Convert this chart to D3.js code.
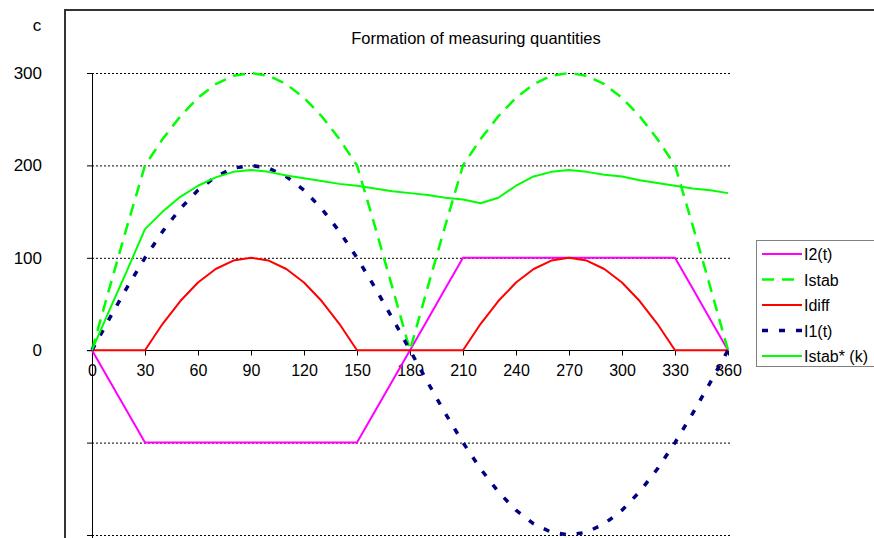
<!DOCTYPE html>
<html lang="en">
<head>
<meta charset="UTF-8">
<title>Formation of measuring quantities</title>
<script src="https://d3js.org/d3.v7.min.js"></script>
<style>
    body { margin: 0; background: #fff; }
    svg text { font-family: "Liberation Sans", Arial, sans-serif; fill: #000; }
    .grid { stroke: #000; stroke-width: 1; stroke-dasharray: 2,2; }
    .series { fill: none; stroke-linejoin: round; }
</style>
</head>
<body>
<div id="chart"></div>
<script>
    // angle in degrees, one point every 10 degrees
    const deg = [0, 10, 20, 30, 40, 50, 60, 70, 80, 90, 100, 110, 120, 130, 140, 150, 160, 170, 180,
        190, 200, 210, 220, 230, 240, 250, 260, 270, 280, 290, 300, 310, 320, 330, 340, 350, 360];

    const i2 = [0, -33.3, -66.7, -100, -100, -100, -100, -100, -100, -100, -100, -100, -100, -100, -100, -100, -66.7, -33.3, 0,
        33.3, 66.7, 100, 100, 100, 100, 100, 100, 100, 100, 100, 100, 100, 100, 100, 66.7, 33.3, 0];

    const istab = [0, 68, 135.1, 200, 228.6, 253.2, 273.2, 287.9, 297, 300, 297, 287.9, 273.2, 253.2, 228.6, 200, 135.1, 68, 0,
        68, 135.1, 200, 228.6, 253.2, 273.2, 287.9, 297, 300, 297, 287.9, 273.2, 253.2, 228.6, 200, 135.1, 68, 0];

    const idiff = [0, 0, 0, 0, 28.6, 53.2, 73.2, 87.9, 97, 100, 97, 87.9, 73.2, 53.2, 28.6, 0, 0, 0, 0,
        0, 0, 0, 28.6, 53.2, 73.2, 87.9, 97, 100, 97, 87.9, 73.2, 53.2, 28.6, 0, 0, 0, 0];

    const i1 = [0, 34.7, 68.4, 100, 128.6, 153.2, 173.2, 187.9, 197, 200, 197, 187.9, 173.2, 153.2, 128.6, 100, 68.4, 34.7, 0,
        -34.7, -68.4, -100, -128.6, -153.2, -173.2, -187.9, -197, -200, -197, -187.9, -173.2, -153.2, -128.6, -100, -68.4, -34.7, 0];

    const istabK = [0, 44, 87, 131, 150, 166, 178, 187, 193, 195, 193, 189, 186, 183, 180, 178, 175, 172, 170,
        168, 165, 163, 159, 165, 178, 188, 193, 195, 193, 190, 188, 184, 181, 178, 175, 173, 170];

    const xTicks = [0, 30, 60, 90, 120, 150, 180, 210, 240, 270, 300, 330, 360];
    const yGrid = [-200, -100, 0, 100, 200, 300];
    const yLabels = [0, 100, 200, 300];

    const series = [
        { name: "I2(t)", values: i2, color: "#ff00ff", width: 2, dash: null },
        { name: "Istab", values: istab, color: "#00ff00", width: 2.5, dash: "12,8" },
        { name: "Idiff", values: idiff, color: "#ff0000", width: 2, dash: null },
        { name: "I1(t)", values: i1, color: "#000080", width: 3.5, dash: "6,11" },
        { name: "Istab* (k)", values: istabK, color: "#00ff00", width: 2, dash: null }
    ];

    const width = 874, height = 538;

    const svg = d3.select("#chart").append("svg")
        .attr("width", width)
        .attr("height", height);

    const x = d3.scaleLinear().domain([0, 360]).range([92, 728]);
    const y = d3.scaleLinear().domain([-200, 300]).range([535, 73]);

    // outer frame (right and bottom fall outside the picture)
    svg.append("path")
        .attr("d", "M65,540 L65,10 L880,10")
        .attr("fill", "none")
        .attr("stroke", "#333")
        .attr("stroke-width", 2);

    // title
    svg.append("text")
        .attr("x", 476)
        .attr("y", 44)
        .attr("text-anchor", "middle")
        .style("font-size", "16.5px")
        .text("Formation of measuring quantities");

    // axis title
    svg.append("text")
        .attr("x", 37)
        .attr("y", 31)
        .attr("text-anchor", "middle")
        .style("font-size", "17px")
        .text("c");

    // horizontal gridlines
    svg.append("g").selectAll("line")
        .data(yGrid.filter(v => v !== 0))
        .join("line")
        .attr("class", "grid")
        .attr("x1", x(0)).attr("x2", x(360) + 2)
        .attr("y1", d => y(d) + 0.5).attr("y2", d => y(d) + 0.5);

    // y axis line and ticks
    svg.append("line")
        .attr("x1", x(0) + 0.5).attr("x2", x(0) + 0.5)
        .attr("y1", y(300)).attr("y2", height)
        .attr("stroke", "#000");
    svg.append("g").selectAll("line")
        .data(yGrid)
        .join("line")
        .attr("x1", x(0) - 5).attr("x2", x(0) + 1)
        .attr("y1", d => y(d) + 0.5).attr("y2", d => y(d) + 0.5)
        .attr("stroke", "#000");
    svg.append("g").selectAll("text")
        .data(yLabels)
        .join("text")
        .attr("x", 42)
        .attr("y", d => y(d) + 6)
        .attr("text-anchor", "end")
        .style("font-size", "17px")
        .text(d => d);

    // x axis at zero
    const xAxis = svg.append("g")
        .attr("transform", `translate(0,${Math.round(y(0)) + 0.5})`)
        .call(d3.axisBottom(x).tickValues(xTicks).tickSize(5).tickSizeOuter(0).tickPadding(16));
    xAxis.select(".domain").attr("d", `M${x(0) - 5},0H${x(360)}`);
    xAxis.selectAll("text")
        .style("font-size", "16px")
        .style("font-family", "'Liberation Sans', Arial, sans-serif")
        .attr("dy", "0.32em")
        .attr("y", 20);

    // series
    const line = d3.line()
        .x((d, i) => x(deg[i]))
        .y(d => y(d));

    svg.append("g").selectAll("path")
        .data(series)
        .join("path")
        .attr("class", "series")
        .attr("d", d => line(d.values))
        .attr("stroke", d => d.color)
        .attr("stroke-width", d => d.width)
        .attr("stroke-dasharray", d => d.dash);

    // legend
    const legend = svg.append("g");
    legend.append("rect")
        .attr("x", 756.5).attr("y", 240.5)
        .attr("width", 140).attr("height", 126)
        .attr("fill", "#fff")
        .attr("stroke", "#808080");

    const item = legend.selectAll("g.item")
        .data(series)
        .join("g")
        .attr("class", "item")
        .attr("transform", (d, i) => `translate(0,${254 + i * 25.5})`);
    item.append("line")
        .attr("x1", 762).attr("x2", 802)
        .attr("stroke", d => d.color)
        .attr("stroke-width", d => d.width)
        .attr("stroke-dasharray", d => d.dash);
    item.append("text")
        .attr("x", 804)
        .attr("y", 6)
        .style("font-size", "16px")
        .text(d => d.name);
</script>
</body>
</html>
